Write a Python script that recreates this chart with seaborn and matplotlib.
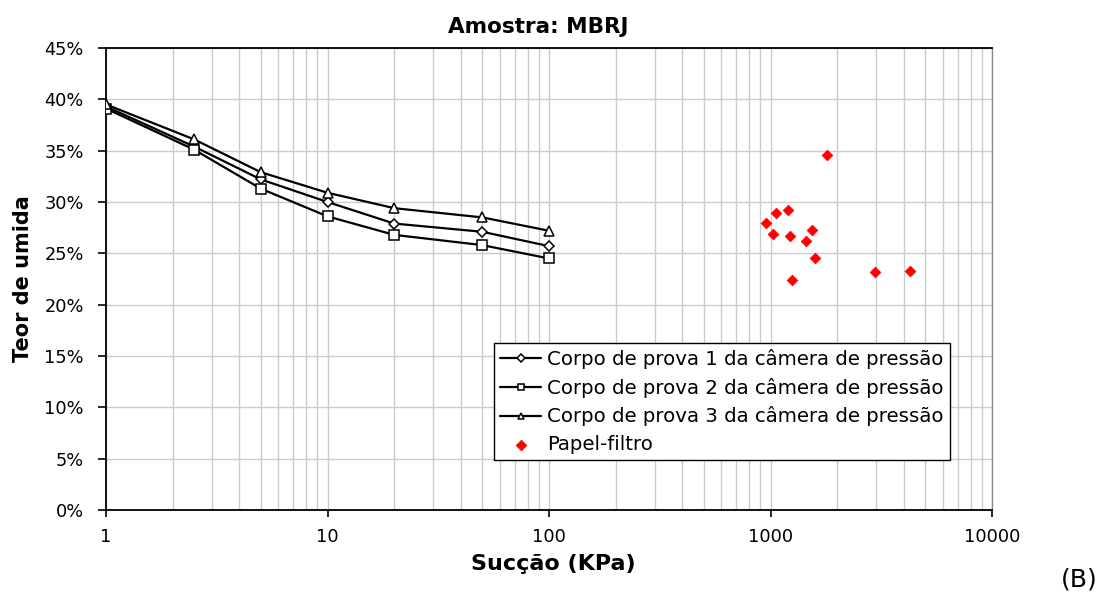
import numpy as np
import pandas as pd
import matplotlib
matplotlib.use("Agg")
import matplotlib.pyplot as plt
import seaborn as sns
from matplotlib.ticker import FixedLocator, FuncFormatter, LogLocator, NullFormatter

sns.set_theme(style="white")
plt.rcParams['font.family'] = ['DejaVu Sans']
plt.rcParams['text.color'] = 'black'
plt.rcParams['axes.labelcolor'] = 'black'

suction = [1, 2.5, 5, 10, 20, 50, 100]
cp1 = [39.3, 35.4, 32.2, 30.0, 27.9, 27.1, 25.7]
cp2 = [39.1, 35.1, 31.3, 28.6, 26.8, 25.8, 24.5]
cp3 = [39.5, 36.1, 32.9, 30.9, 29.4, 28.5, 27.2]

pf_suction = [1799, 1059, 1199, 957, 1026, 1221, 1539, 1446, 1584, 1254, 2964, 4250]
pf_moisture = [34.6, 28.9, 29.2, 28.0, 26.9, 26.7, 27.3, 26.2, 24.5, 22.4, 23.2, 23.3]

labels = ["Corpo de prova 1 da câmera de pressão",
          "Corpo de prova 2 da câmera de pressão",
          "Corpo de prova 3 da câmera de pressão",
          "Papel-filtro"]
x_ticks = [1, 10, 100, 1000, 10000]
y_ticks = [0, 5, 10, 15, 20, 25, 30, 35, 40, 45]

W, H = 1107, 599
fig = plt.figure(figsize=(W / 100, H / 100), dpi=100)
ax = fig.add_axes([106 / W, 1 - 510 / H, (992 - 106) / W, (510 - 48) / H])

ax.set_xscale("log")
ax.set_xlim(1, 10000)
ax.set_ylim(0, 45)

series = [(cp1, "D", 5.5), (cp2, "s", 6.5), (cp3, "^", 7.5)]
for (vals, mk, ms), lab in zip(series, labels[:3]):
    df = pd.DataFrame({"x": suction, "y": vals})
    sns.lineplot(data=df, x="x", y="y", ax=ax, color="black", lw=1.6,
                 marker=mk, markersize=ms, markerfacecolor="white",
                 markeredgecolor="black", markeredgewidth=1.1, label=lab,
                 zorder=3)

dfp = pd.DataFrame({"x": pf_suction, "y": pf_moisture})
sns.scatterplot(data=dfp, x="x", y="y", ax=ax, color="#ff0000", marker="D",
                s=30, edgecolor="#ff0000", linewidth=0.5, label=labels[3], zorder=4)

ax.xaxis.set_major_locator(FixedLocator(x_ticks))
ax.xaxis.set_minor_locator(LogLocator(base=10, subs=np.arange(2, 10), numticks=20))
ax.xaxis.set_minor_formatter(NullFormatter())
ax.xaxis.set_major_formatter(FuncFormatter(lambda v, p: f"{int(round(v))}"))
ax.yaxis.set_major_locator(FixedLocator(y_ticks))
ax.yaxis.set_major_formatter(FuncFormatter(lambda v, p: f"{int(round(v))}%"))

ax.grid(True, which="major", color="#cccccc", lw=1.0)
ax.grid(True, which="minor", axis="x", color="#cccccc", lw=1.0)
ax.set_axisbelow(True)

for s in ["left", "bottom", "top"]:
    ax.spines[s].set_color("black")
    ax.spines[s].set_linewidth(1.3)
ax.spines["right"].set_color("#888888")
ax.spines["right"].set_linewidth(1.0)

ax.tick_params(axis="x", which="major", labelsize=12.8, colors="black",
               length=5, width=1.2, direction="out", bottom=True, pad=8)
ax.tick_params(axis="y", which="major", labelsize=12.8, colors="black",
               length=6, width=1.2, direction="out", left=True, pad=10)
ax.tick_params(axis="x", which="minor", length=0)

ax.set_xlabel("Sucção (KPa)", fontsize=16, fontweight="bold", labelpad=6)
ax.xaxis.label.set_x((553 - 106) / 886)
ax.set_ylabel("Teor de umida", fontsize=15, fontweight="bold", labelpad=8)
ttl = ax.set_title("Amostra: MBRJ", fontsize=15.5, fontweight="bold", pad=11)
ttl.set_x((538 - 106) / 886)

leg = ax.legend(loc="lower left", bbox_to_anchor=((494 - 106) / 886, (510 - 460) / 462),
                borderaxespad=0, fontsize=14.2, frameon=True, fancybox=False,
                edgecolor="black", framealpha=1, handlelength=2.1, borderpad=0.3,
                labelspacing=0.44, handletextpad=0.3)
leg.get_frame().set_linewidth(1.0)
for h in leg.legend_handles:
    try:
        h.set_markersize(4.5)
    except Exception:
        pass

fig.text(1079 / W, 1 - 580 / H, "(B)", fontsize=18, ha="center", va="center")

fig.savefig("out.png", dpi=100, facecolor="white")
